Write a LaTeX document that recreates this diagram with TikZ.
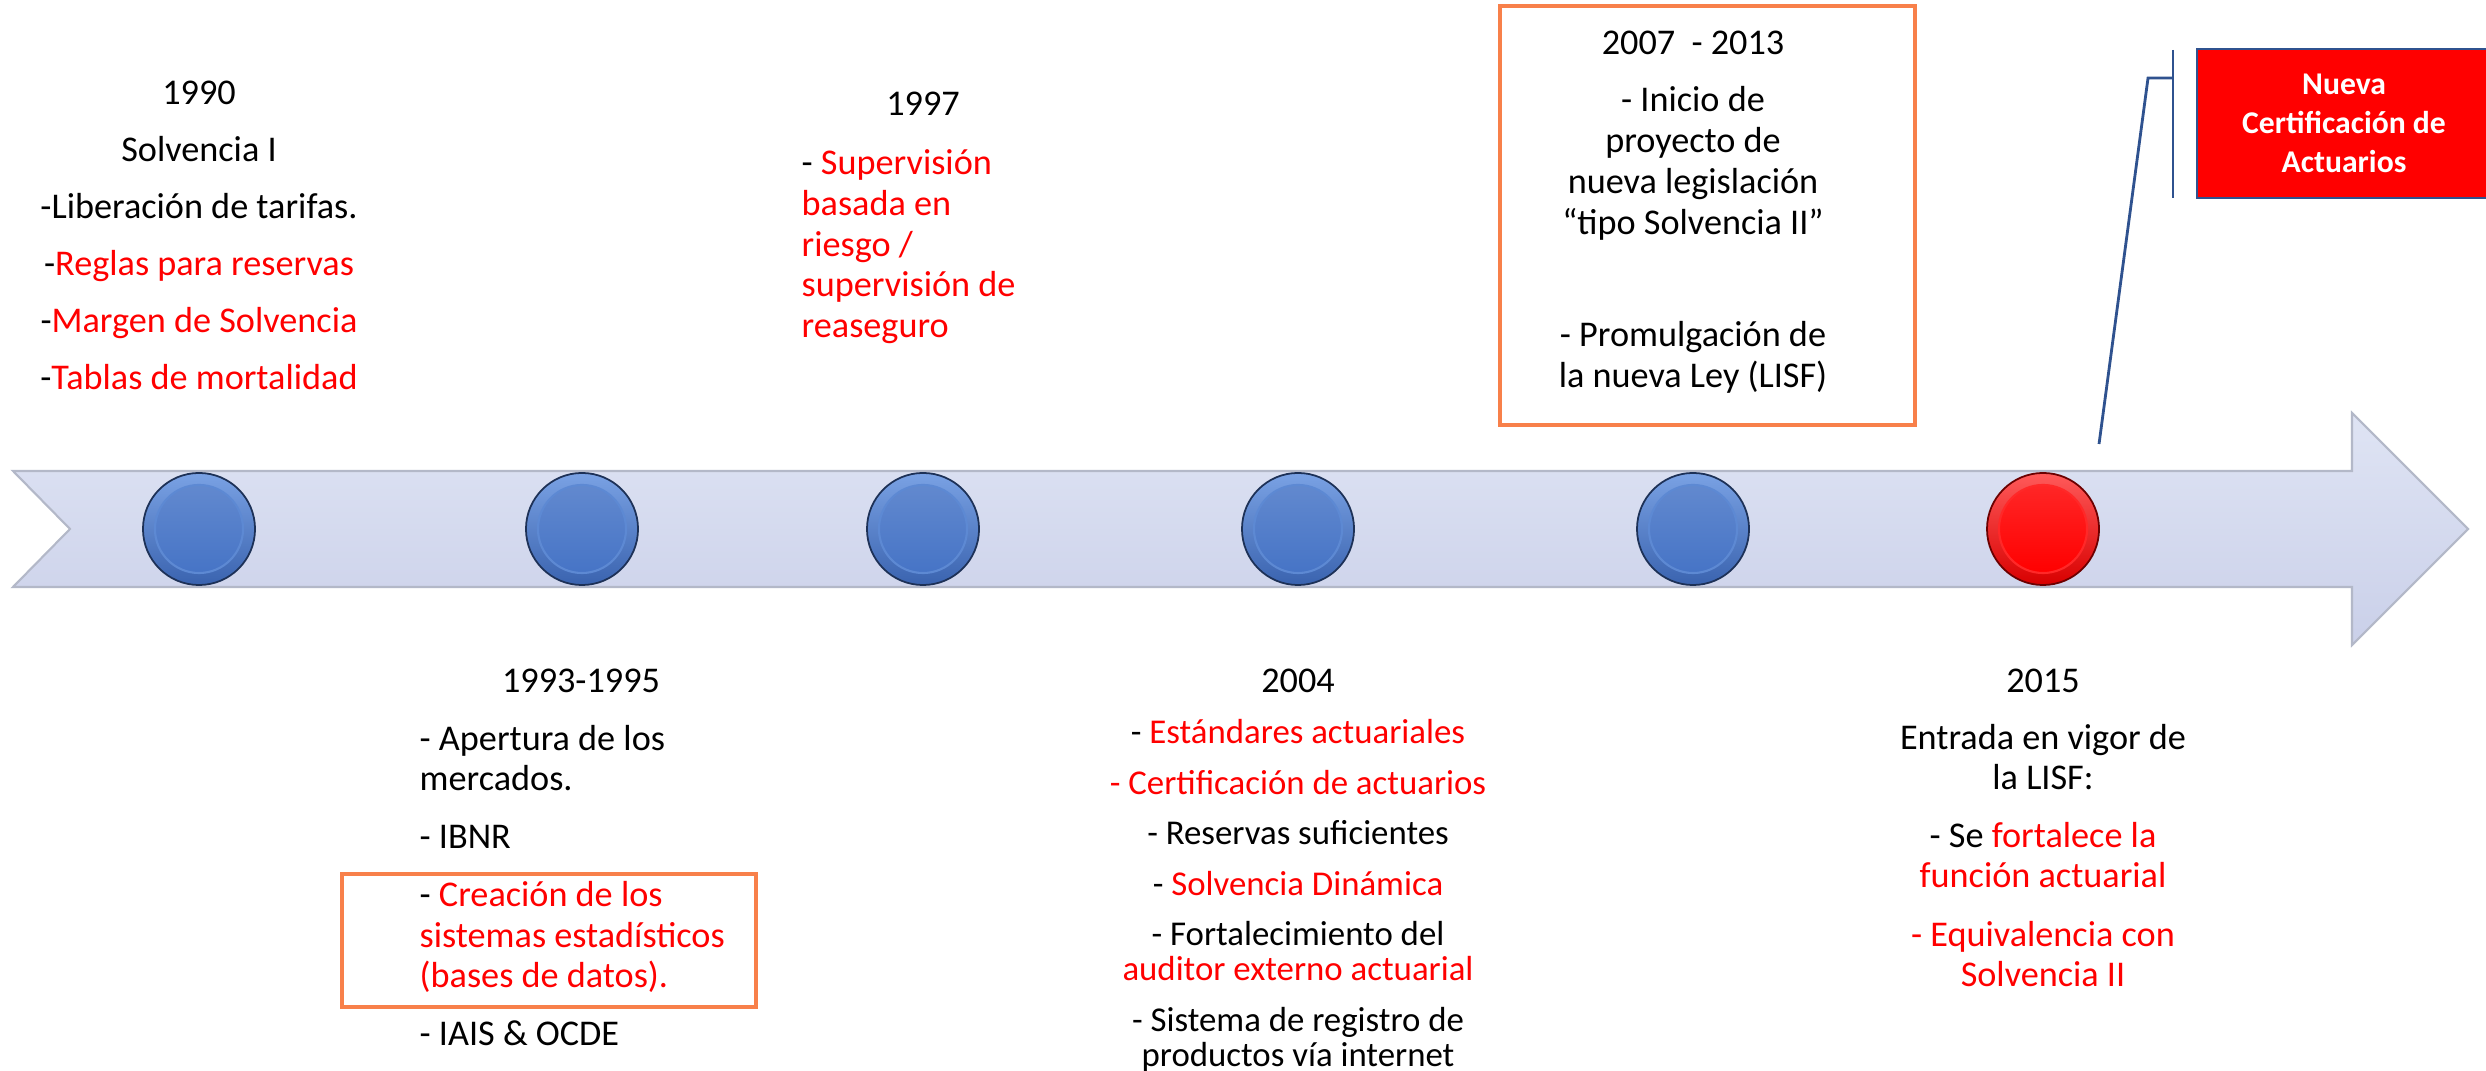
\documentclass[tikz,border=0pt]{standalone}
\usepackage{fontspec}
\setmainfont{Carlito}
\usepackage{xcolor}
\usepackage{tikz}

\definecolor{rojo}{HTML}{FF0000}
\definecolor{rojoclaro}{HTML}{FF5A5A}
\definecolor{rojooscuro}{HTML}{D80000}
\definecolor{naranja}{HTML}{F8804A}
\definecolor{azulcallout}{HTML}{2F528F}
\definecolor{azulclaro}{HTML}{7AA2E4}
\definecolor{azuloscuro}{HTML}{3A63AF}
\definecolor{azulcentro}{HTML}{4674C6}
\definecolor{franjaclaro}{HTML}{DFE4F4}
\definecolor{franjaoscuro}{HTML}{CAD0E9}
\definecolor{franjaborde}{HTML}{B3B8C8}

\newcommand{\rojo}[1]{\textcolor{rojo}{#1}}
% botón de la línea de tiempo: centro, claro, oscuro, relleno
\newcommand{\boton}[4]{%
  \shade[top color=#2, bottom color=#3, draw=#3!50!black, line width=0.5pt] (#1) circle (0.56cm);
  \shade[top color=#4!85!white, bottom color=#4, draw=#2!45!#4, line width=0.6pt] (#1) circle (0.44cm);
}

\tikzset{
  texto/.style={inner sep=0pt, font=\fontsize{10.3}{11.4}\selectfont, align=center},
  marco/.style={draw=naranja, line width=1pt},
  callout/.style={draw=azulcallout, line width=0.8pt},
}

\begin{document}
\begin{tikzpicture}[x=0.01cm, y=-0.01cm]
    \useasboundingbox (0,0) rectangle (2486,1071);

    % Flecha de la línea de tiempo
    \shade[top color=franjaclaro, bottom color=franjaoscuro, draw=franjaborde, line width=0.6pt]
      (13,471) -- (2352,471) -- (2352,413) -- (2468,529) -- (2352,645)
      -- (2352,587) -- (13,587) -- (70,529) -- cycle;

    % Botones
    \boton{199,529}{azulclaro}{azuloscuro}{azulcentro}
    \boton{582,529}{azulclaro}{azuloscuro}{azulcentro}
    \boton{923,529}{azulclaro}{azuloscuro}{azulcentro}
    \boton{1298,529}{azulclaro}{azuloscuro}{azulcentro}
    \boton{1693,529}{azulclaro}{azuloscuro}{azulcentro}
    \boton{2043,529}{rojoclaro}{rojooscuro}{rojo}

    % Arriba de la flecha
    \node[texto, anchor=north, font=\fontsize{10.3}{16.2}\selectfont] (t1990) at (199,80)
      {1990\\Solvencia I\\-Liberación de tarifas.\\-\rojo{Reglas para reservas}\\
       -\rojo{Margen de Solvencia}\\-\rojo{Tablas de mortalidad}};

    \node[texto, anchor=north] (a1997) at (923,91) {1997};
    \node[texto, anchor=north west, align=left, text=rojo, font=\fontsize{10.3}{11.6}\selectfont] (t1997) at (801,149)
      {\textcolor{black}{-} Supervisión\\basada en\\riesgo /\\supervisión de\\reaseguro};

    \draw[marco] (1500,6) rectangle (1915,425);
    \node[texto, anchor=north, font=\fontsize{10.3}{11.7}\selectfont] (t2007) at (1693,30)
      {2007\ \ - 2013\\[4.5pt]- Inicio de\\proyecto de\\nueva legislación\\“tipo Solvencia II”\\[20pt]
       - Promulgación de\\la nueva Ley (LISF)};

    % Abajo de la flecha
    \node[texto, anchor=north] (a1993) at (581,668) {1993-1995};
    \draw[marco] (342,874) rectangle (756,1007);
    \node[texto, anchor=north west, align=left] (t1993) at (419,725)
      {- Apertura de los\\mercados.\\[5.1pt]- IBNR\\[5.1pt]- \rojo{Creación de los}\\
       \rojo{sistemas estadísticos}\\\rojo{(bases de datos).}\\[5.1pt]- IAIS \& OCDE};

    \node[texto, anchor=north] (a2004) at (1298,668) {2004};
    \node[texto, anchor=north, font=\fontsize{9.9}{9.96}\selectfont] (t2004) at (1298,719)
      {- \rojo{Estándares actuariales}\\[4.4pt]\rojo{- Certificación de actuarios}\\[4.4pt]
       - Reservas suficientes\\[4.4pt]- \rojo{Solvencia Dinámica}\\[4.4pt]
       - Fortalecimiento del\\\rojo{auditor externo actuarial}\\[4.4pt]
       - Sistema de registro de\\productos vía internet};

    \node[texto, anchor=north, font=\fontsize{10.3}{11.3}\selectfont] (t2015) at (2043,668)
      {2015\\[5.1pt]Entrada en vigor de\\la LISF:\\[5.1pt]- Se \rojo{fortalece la}\\
       \rojo{función actuarial}\\[5.6pt]\rojo{- Equivalencia con}\\\rojo{Solvencia II}};

    % Llamada
    \node[draw=azulcallout, fill=rojo, line width=0.8pt, minimum width=2.94cm, minimum height=1.49cm,
          inner sep=0pt, text=white, align=center, font=\bfseries\fontsize{9}{11}\selectfont]
      (certif) at (2344,123.5) {Nueva\\Certificación de\\Actuarios};
    \coordinate (barra1) at (2173,50);
    \coordinate (barra2) at (2173,198);
    \coordinate (union) at (2173,78);
    \coordinate (codo) at (2148,78);
    \coordinate (punta) at (2099,444);
    \draw[callout] (barra1) -- (barra2);
    \draw[callout] (union) -- (codo) -- (punta);
\end{tikzpicture}
\end{document}
